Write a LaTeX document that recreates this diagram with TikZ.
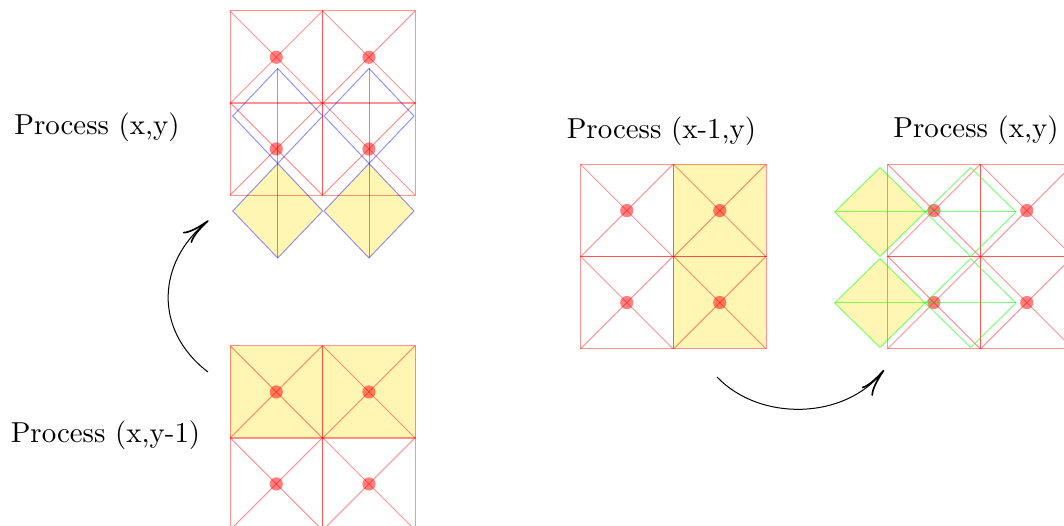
\documentclass[tikz,border=0pt]{standalone}
\usetikzlibrary{arrows.meta}
\tikzset{
  px/.style={x=0.36pt,y=-0.36pt},
  cellline/.style={draw=red,draw opacity=.42,line width=0.36pt},
  dot/.style={fill=red,fill opacity=.5,draw=none},
  hilite/.style={fill=yellow!85!orange,fill opacity=.3,draw=none},
  bluel/.style={draw=blue,draw opacity=.42,line width=0.36pt},
  greenl/.style={draw=green,draw opacity=.5,line width=0.36pt},
  lab/.style={inner sep=0pt,anchor=base,font=\fontsize{10.4}{12}\selectfont},
  curvearrow/.style={-{Computer Modern Rightarrow[length=10pt,width=5pt,line width=0.6pt]},black,line width=0.36pt}
}
\newcommand{\redcell}[3]{% x y size
  \draw[cellline] (#1,#2) rectangle ++(#3,#3);
  \draw[cellline] (#1,#2) -- ++(#3,#3);
  \draw[cellline] (#1+#3,#2) -- ++(-#3,#3);
  \fill[dot] (#1+#3/2,#2+#3/2) circle[radius=6.6];
}
\begin{document}
\begin{tikzpicture}[px]
\useasboundingbox (0,0) rectangle (1064,526);
% highlighted areas
\fill[hilite] (278,163) -- (323,211) -- (278,258) -- (233,211) -- cycle;
\fill[hilite] (369,163) -- (414,211) -- (369,258) -- (324,211) -- cycle;
\fill[hilite] (230,346) rectangle (415.5,438);
\fill[hilite] (673.7,164.3) rectangle (766.3,348);
\fill[hilite] (880,167.7) -- (925.3,212) -- (880,256.7) -- (834.7,212) -- cycle;
\fill[hilite] (880,258.7) -- (925.3,303) -- (880,347.3) -- (834.7,303) -- cycle;
% red grids
\foreach \x in {230,322.7}{\foreach \y in {11,102.7}{\redcell{\x}{\y}{92.5}}}
\foreach \x in {230,322.7}{\foreach \y in {345.7,437.7}{\redcell{\x}{\y}{92.5}}}
\foreach \x in {580.5,673.5}{\foreach \y in {164.3,256.3}{\redcell{\x}{\y}{92.5}}}
\foreach \x in {887.7,980.5}{\foreach \y in {164.3,256.3}{\redcell{\x}{\y}{92.5}}}
% blue diamonds
\foreach \x in {277.7,369}{
  \draw[bluel] (\x,68.5) -- (\x+45,116) -- (\x,163.5) -- (\x-45,116) -- cycle;
  \draw[bluel] (\x,163.5) -- (\x+45,211) -- (\x,258) -- (\x-45,211) -- cycle;
  \draw[bluel] (\x,68.5) -- (\x,258);
}
% green diamonds
\foreach \y in {212,303}{
  \draw[greenl] (880,\y-44.5) -- (925.3,\y) -- (880,\y+44.5) -- (834.7,\y) -- cycle;
  \draw[greenl] (970.7,\y-44.5) -- (1016,\y) -- (970.7,\y+44.5) -- (925.3,\y) -- cycle;
  \draw[greenl] (834.7,\y) -- (1016,\y);
}
% labels
\node[lab] (p1) at (97,135) {Process (x,y)};
\node[lab] (p2) at (105.5,443) {Process (x,y-1)};
\node[lab] (p3) at (661.5,139) {Process (x-1,y)};
\node[lab] (p4) at (976,138) {Process (x,y)};
% arrows
\coordinate (a1) at (208,372);
\coordinate (a2) at (208.5,220.5);
\coordinate (b1) at (717,377);
\coordinate (b2) at (884,370);
\draw[curvearrow] (a1) .. controls (153,330) and (157,262) .. (a2);
\draw[curvearrow] (b1) .. controls (760,422) and (845,420) .. (b2);
\end{tikzpicture}
\end{document}
